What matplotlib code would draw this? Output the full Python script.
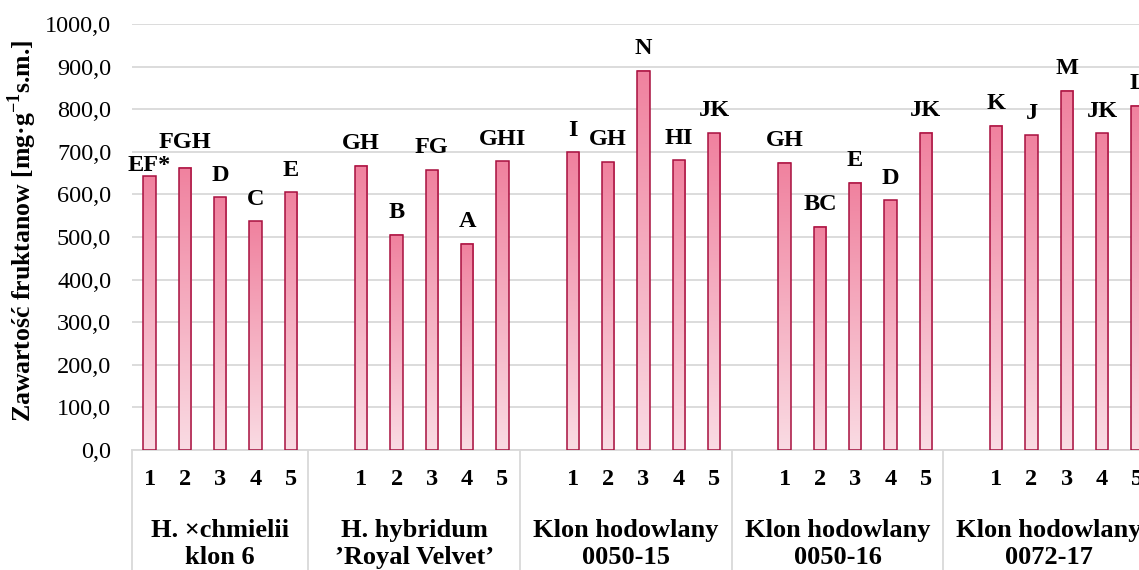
import numpy as np
import matplotlib.pyplot as plt
from matplotlib.colors import LinearSegmentedColormap
from matplotlib.transforms import blended_transform_factory

plt.rcParams['font.family'] = ['Liberation Serif', 'DejaVu Serif']
plt.rcParams['mathtext.fontset'] = 'custom'
plt.rcParams['mathtext.rm'] = 'Liberation Serif'
plt.rcParams['mathtext.bf'] = 'Liberation Serif:bold'

groups = ["H. \u00d7chmielii\nklon 6", "H. hybridum\n\u2019Royal Velvet\u2019",
          "Klon hodowlany\n0050-15", "Klon hodowlany\n0050-16", "Klon hodowlany\n0072-17"]
ticks = ["1", "2", "3", "4", "5"]
values = [
    [643, 663, 593, 537, 605],
    [667, 505, 657, 484, 678],
    [699, 676, 890, 680, 744],
    [674, 524, 627, 586, 745],
    [761, 739, 843, 743, 808],
]
letters = [
    ["EF*", "FGH", "D", "C", "E"],
    ["GH", "B", "FG", "A", "GHI"],
    ["I", "GH", "N", "HI", "JK"],
    ["GH", "BC", "E", "D", "JK"],
    ["K", "J", "M", "JK", "L"],
]
yticks = np.arange(0, 1001, 100)

# labels moved by hand in the original (points)
nudge = {(0, 0): -8, (0, 1): 2}

fig = plt.figure(figsize=(11.39, 5.70), dpi=100)
ax = fig.add_axes([132/1139, 1 - 450/570, 1023/1139, 426/570])

cmap = LinearSegmentedColormap.from_list("pk", ["#fadbe3", "#f0829f"])
grad = np.linspace(0, 1, 100).reshape(-1, 1)
w = 0.35
edge = "#a8103f"

for gi, vals in enumerate(values):
    for bi, v in enumerate(vals):
        x = gi * 6 + bi
        ax.imshow(grad, extent=[x - w/2, x + w/2, 0, v], origin="lower",
                  cmap=cmap, aspect="auto", zorder=2, interpolation="bilinear")
        ax.bar(x, v, width=w, fill=False, edgecolor=edge, linewidth=1.1, zorder=3)
        dy = 12 + nudge.get((gi, bi), 0)
        ax.annotate(letters[gi][bi], (x, v), xytext=(0, dy), textcoords="offset points",
                    ha="center", va="baseline", fontsize=17.5, fontweight="bold")

ax.set_xlim(-0.5, 28.5)
ax.set_ylim(0, 1000)
ax.set_yticks(yticks)
ax.set_yticklabels([f"{t:.1f}".replace(".", ",") for t in yticks], fontsize=17.5)
ax.tick_params(axis="y", length=0, pad=15)
ax.set_xticks([])
ax.grid(axis="y", color="#d9d9d9", linewidth=1.3, zorder=0)
for s in ["top", "right", "left"]:
    ax.spines[s].set_visible(False)
ax.spines["bottom"].set_color("#d9d9d9")
ax.spines["bottom"].set_linewidth(1.3)

ax.set_ylabel("Zawarto\u015b\u0107 fruktanow [mg\u00b7g$^{\\mathbf{-1}}$s.m.]",
              fontsize=18.5, fontweight="bold")
ax.yaxis.set_label_coords(-0.1075, 0.514)
ax.yaxis.label.set_va("center")

tr = blended_transform_factory(ax.transData, ax.transAxes)
for gi, g in enumerate(groups):
    for bi, t in enumerate(ticks):
        ax.text(gi * 6 + bi, -0.07, t, transform=tr, ha="center", va="center",
                fontsize=17.5, fontweight="bold")
    left = -0.5 if gi == 0 else gi * 6 - 1.5
    right = gi * 6 + 4.5
    ax.text((left + right) / 2, -0.22, g, transform=tr, ha="center", va="center",
            fontsize=19, fontweight="bold", linespacing=1.2)
for sx in [-0.5, 4.5, 10.5, 16.5, 22.5]:
    ax.plot([sx, sx], [0, -0.35], transform=tr, color="#d9d9d9", lw=1.3, clip_on=False)

fig.savefig("out.png", dpi=100)
